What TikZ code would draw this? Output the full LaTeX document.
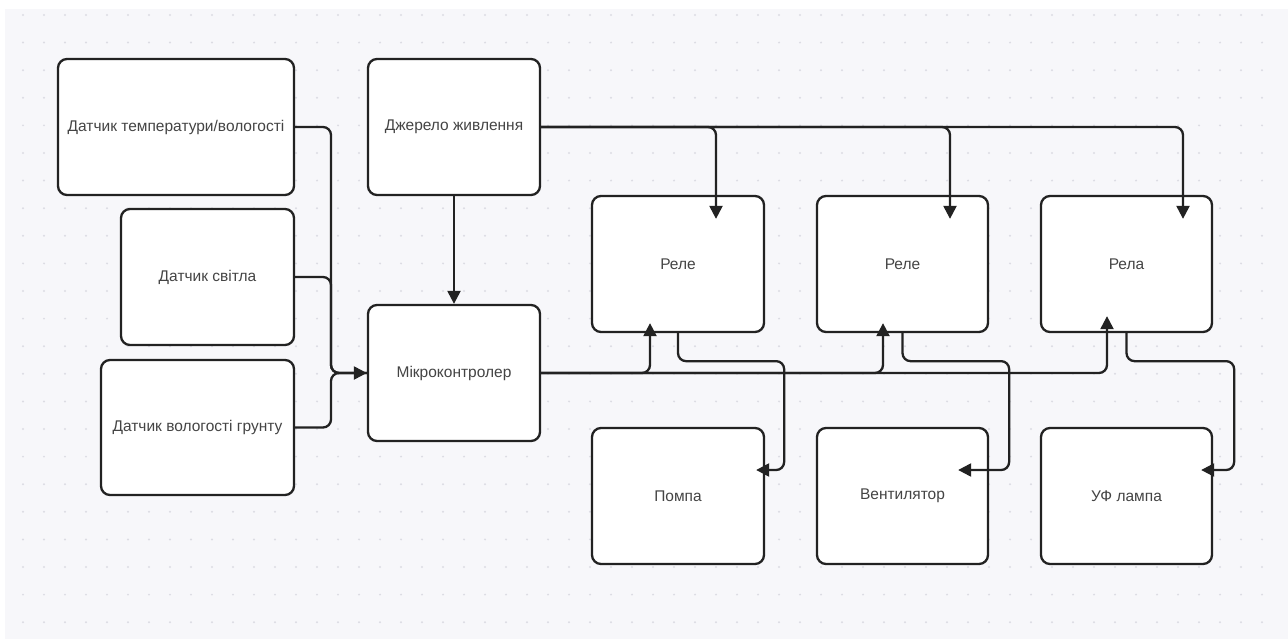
\documentclass[tikz,border=0pt]{standalone}
\usepackage{fontspec}
\setmainfont{Liberation Sans}
\usetikzlibrary{arrows.meta,calc}
\definecolor{canvasbg}{HTML}{F7F7FA}
\definecolor{dotc}{HTML}{DCDCE3}
\definecolor{boxline}{HTML}{222222}
\definecolor{txt}{HTML}{444444}
\begin{document}
\begin{tikzpicture}[x=1pt,y=-1pt,
  box/.style={draw=boxline, line width=2.3pt, fill=white, rounded corners=9pt,
    minimum height=136pt, text=txt, font=\fontsize{15.5}{18}\selectfont, inner sep=2pt},
  conn/.style={draw=boxline, line width=2.3pt, rounded corners=8pt},
  arr/.style={conn, -{Triangle[length=13pt,width=13pt]}}]
% background
\fill[white] (0,0) rectangle (1288,639);
\fill[canvasbg] (5,9) rectangle (1288,639);
\foreach \i in {0,...,59} {
  \foreach \j in {0,...,22} {
    \fill[dotc] ({23+21*\i},{15+27.6*\j}) circle (1.1pt);
  }
}
\useasboundingbox (0,0) rectangle (1288,639);
% nodes
\node[box, minimum width=236pt] (temp) at (176,127) {Датчик температури/вологості};
\node[box, minimum width=173pt] (light) at (207.5,277) {Датчик світла};
\node[box, minimum width=193pt, minimum height=135pt] (soil) at (197.5,427.5) {Датчик вологості грунту};
\node[box, minimum width=172pt] (power) at (454,127) {Джерело живлення};
\node[box, minimum width=172pt] (mc) at (454,373) {Мікроконтролер};
\node[box, minimum width=172pt] (r1) at (678,264) {Реле};
\node[box, minimum width=171pt] (r2) at (902.5,264) {Реле};
\node[box, minimum width=171pt] (r3) at (1126.5,264) {Рела};
\node[box, minimum width=172pt] (pompa) at (678,496) {Помпа};
\node[box, minimum width=171pt] (vent) at (902.5,496) {Вентилятор};
\node[box, minimum width=171pt] (uf) at (1126.5,496) {УФ лампа};
% sensors -> microcontroller
\draw[conn] (light.east) -- (331,277) |- (mc.west);
\draw[conn] (soil.east) -- (331,427.5) |- (mc.west);
\draw[arr] (temp.east) -- (331,127) |- (mc.west);
% power
\draw[arr] (power.south) -- (mc.north);
\draw[arr] (power.east) -| ($(r3.north)+(56.5,24)$);
\draw[arr] (power.east) -| ($(r2.north)+(47.5,24)$);
\draw[arr] (power.east) -| ($(r1.north)+(38,24)$);
% microcontroller -> relays
\draw[arr] (mc.east) -| ($(r3.south)+(-19.5,-17)$);
\draw[arr] (mc.east) -| ($(r2.south)+(-19.5,-10)$);
\draw[arr] (mc.east) -| ($(r1.south)+(-28,-10)$);
% relays -> loads
\draw[arr] (r1.south) -- ++(0,28) -| ($(pompa.east)+(19,-26)$) -- ($(pompa.east)+(-9,-26)$);
\draw[arr] (r2.south) -- ++(0,28) -| ($(vent.east)+(20,-26)$) -- ($(vent.east)+(-31,-26)$);
\draw[arr] (r3.south) -- ++(0,28) -| ($(uf.east)+(21,-26)$) -- ($(uf.east)+(-12,-26)$);
\end{tikzpicture}
\end{document}
